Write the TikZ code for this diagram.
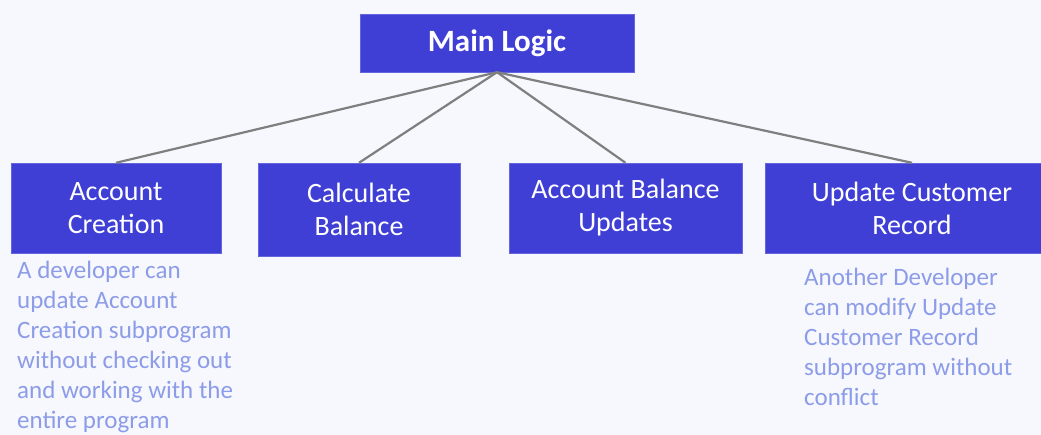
\documentclass[tikz,border=0pt]{standalone}
\usepackage{fontspec}
\setmainfont{Carlito}
\usepackage{tikz}
\definecolor{boxblue}{HTML}{3F3FD6}
\definecolor{notblue}{HTML}{8C9CE8}
\definecolor{pagebg}{HTML}{F7F8FD}
\definecolor{linkgray}{HTML}{7F7F7F}
\tikzset{modbox/.style={draw=boxblue!80!white,fill=boxblue,text=white,align=center,inner sep=0pt,font=\fontsize{28}{33}\selectfont},
mainbox/.style={modbox,font=\fontsize{31}{34}\selectfont\bfseries},
notetext/.style={anchor=north west,align=left,inner sep=0pt,text=notblue,font=\fontsize{25}{30}\selectfont},
link/.style={draw=linkgray,line width=2.2pt}}

\begin{document}
\begin{tikzpicture}[x=1pt,y=-1pt]
% page background
\fill[pagebg] (0,0) rectangle (1041,435);
\useasboundingbox (0,0) rectangle (1041,435);
% top module
\node[mainbox,minimum width=274pt,minimum height=58pt] (main) at (497,43) {Main Logic};
% subprograms
\node[modbox,minimum width=210pt,minimum height=90pt] (create) at (116,208) {Account\\Creation};
\node[modbox,minimum width=202pt,minimum height=93pt] (calc) at (359,209.5) {Calculate\\Balance};
\node[modbox,minimum width=233pt,minimum height=90pt] (upd) at (625.5,208) {Account Balance\\Updates};
\node[modbox,minimum width=294pt,minimum height=90pt] (cust) at (912,208) {Update Customer\\Record};
% connectors
\draw[link] (main.south) -- (create.north);
\draw[link] (main.south) -- (calc.north);
\draw[link] (main.south) -- (upd.north);
\draw[link] (main.south) -- (cust.north);
% notes under the outer boxes
\node[notetext] (createnote) at (17,261) {A developer can\\update Account\\Creation subprogram\\without checking out\\and working with the\\entire program};
\node[notetext] (custnote) at (804,268) {Another Developer\\can modify Update\\Customer Record\\subprogram without\\conflict};
\end{tikzpicture}
\end{document}
